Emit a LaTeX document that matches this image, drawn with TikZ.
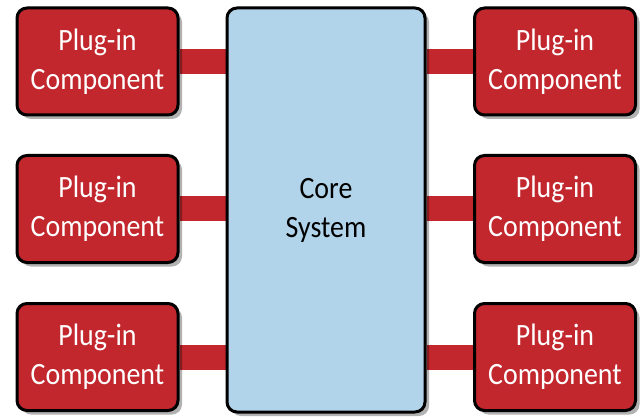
\documentclass[tikz,border=0pt]{standalone}
\usepackage{fontspec}
\setmainfont{Carlito}
\newfontfamily\narrowfont[FakeStretch=0.9]{Carlito}
\usetikzlibrary{shadows, backgrounds}
\definecolor{plugred}{RGB}{193,39,45}
\definecolor{coreblue}{RGB}{178,212,234}
\tikzset{
    plugin/.style={rectangle, draw=black, line width=3pt, rounded corners=10pt, fill=plugred, text=white,
        minimum width=161pt, minimum height=107pt, align=center, font=\narrowfont\fontsize{31}{39}\selectfont,
        drop shadow={shadow xshift=4pt, shadow yshift=-4pt, opacity=0.3, fill=black}},
    corebox/.style={rectangle, draw=black, line width=3pt, rounded corners=10pt, fill=coreblue,
        minimum width=198pt, minimum height=404pt, align=center, font=\narrowfont\fontsize{31}{39}\selectfont,
        drop shadow={shadow xshift=4pt, shadow yshift=-4pt, opacity=0.3, fill=black}},
    link/.style={plugred, line width=25pt},
}

\begin{document}
\begin{tikzpicture}[x=1pt, y=1pt]
    \useasboundingbox (0,0) rectangle (642,418);
    % core in the middle
    \node[corebox] (core) at (326,208) {Core\\System};
    % plug-ins on both sides
    \node[plugin] (l1) at (97.5,356.5) {Plug-in\\Component};
    \node[plugin] (l2) at (97.5,209) {Plug-in\\Component};
    \node[plugin] (l3) at (97.5,61) {Plug-in\\Component};
    \node[plugin] (r1) at (555,356.5) {Plug-in\\Component};
    \node[plugin] (r2) at (555,209) {Plug-in\\Component};
    \node[plugin] (r3) at (555,61) {Plug-in\\Component};
    % bars
    \begin{scope}[on background layer]
    \foreach \p in {l1,l2,l3}
        \draw[link] (\p.east) -- (core.west |- \p.east);
    \foreach \p in {r1,r2,r3}
        \draw[link] (\p.west) -- (core.east |- \p.west);
    \end{scope}
\end{tikzpicture}
\end{document}
